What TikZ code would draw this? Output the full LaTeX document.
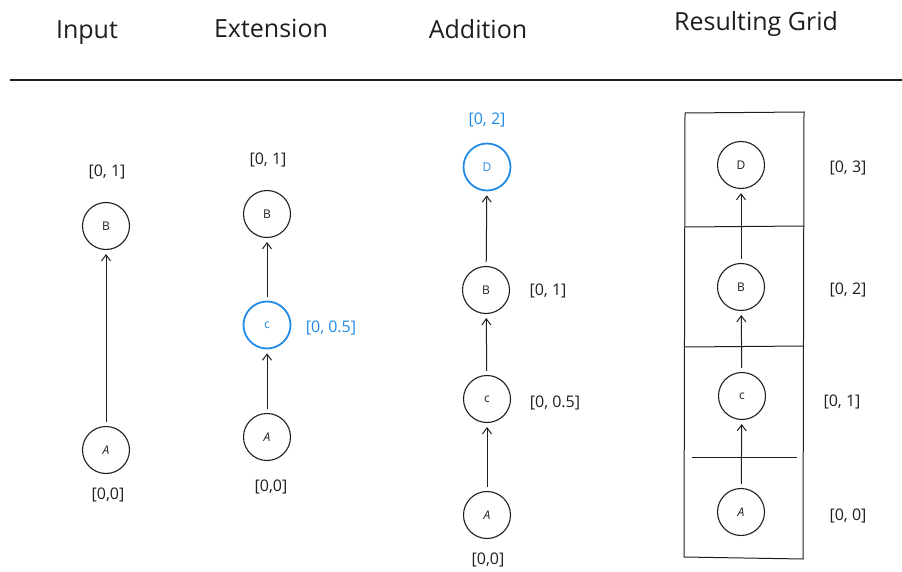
\documentclass[tikz,border=0pt]{standalone}
\usepackage{fontspec}
\setmainfont{Open Sans}
\usetikzlibrary{arrows.meta}
\definecolor{accent}{HTML}{228BE6}
\definecolor{ink}{HTML}{1E1E1E}
\begin{document}
\begin{tikzpicture}[x=1pt,y=-1pt,
  every node/.style={text=ink},
  vert/.style={circle,draw=ink,line width=1.1pt,minimum size=47pt,inner sep=0pt,font=\fontsize{12}{14}\selectfont},
  newvert/.style={vert,draw=accent,text=accent,line width=1.8pt},
  head/.style={font=\fontsize{25}{28}\selectfont},
  lbl/.style={font=\fontsize{16}{18}\selectfont},
  newlbl/.style={lbl,text=accent},
  arr/.style={draw=ink,line width=1pt,-{Straight Barb[length=6pt,width=9pt]},shorten <=4pt,shorten >=4pt},
  gridline/.style={draw=ink,line width=1pt}
]
\useasboundingbox (0,0) rectangle (902,572);

% headings and rule
\node[head] (hInput) at (87,33) {Input};
\node[head] (hExt) at (271,28) {Extension};
\node[head] (hAdd) at (478,29) {Addition};
\node[head] (hGrid) at (756,24) {Resulting Grid};
\draw[line width=1.5pt,draw=ink] (10,80) -- (902,80);

% column 1: input
\node[vert] (a1) at (106,450) {\textit{A}};
\node[vert] (b1) at (106,226) {B};
\node[lbl] (la1) at (108,495) {[0,0]};
\node[lbl] (lb1) at (107,172) {[0, 1]};
\draw[arr] (a1) -- (b1);

% column 2: extension
\node[vert] (a2) at (267,437) {\textit{A}};
\node[newvert] (c2) at (267,325) {c};
\node[vert] (b2) at (267,214) {B};
\node[lbl] (la2) at (271,487) {[0,0]};
\node[newlbl] (lc2) at (331,328) {[0, 0.5]};
\node[lbl] (lb2) at (268,160) {[0, 1]};
\draw[arr] (a2) -- (c2);
\draw[arr] (c2) -- (b2);

% column 3: addition
\node[vert] (a3) at (487,515) {\textit{A}};
\node[vert] (c3) at (487,399) {c};
\node[vert] (b3) at (486,290) {B};
\node[newvert] (d3) at (487,167) {D};
\node[lbl] (la3) at (488,560) {[0,0]};
\node[lbl] (lc3) at (555,403) {[0, 0.5]};
\node[lbl] (lb3) at (548,291) {[0, 1]};
\node[newlbl] (ld3) at (487,120) {[0, 2]};
\draw[arr] (a3) -- (c3);
\draw[arr] (c3) -- (b3);
\draw[arr] (b3) -- (d3);

% column 4: resulting grid
\draw[gridline] (685,113) -- (804,112) -- (803,559) -- (684,557) -- cycle;
\draw[gridline] (685,227) -- (804,226);
\draw[gridline] (684,347) -- (804,346);
\draw[gridline] (692,457.5) -- (797,457.5);
\node[vert] (a4) at (741,512) {\textit{A}};
\node[vert] (c4) at (742,396) {c};
\node[vert] (b4) at (741,287) {B};
\node[vert] (d4) at (741,165) {D};
\node[lbl] (la4) at (848,516) {[0, 0]};
\node[lbl] (lc4) at (842,402) {[0, 1]};
\node[lbl] (lb4) at (848,290) {[0, 2]};
\node[lbl] (ld4) at (848,168) {[0, 3]};
\draw[arr] (a4) -- (c4);
\draw[arr] (c4) -- (b4);
\draw[arr] (b4) -- (d4);
\end{tikzpicture}
\end{document}
